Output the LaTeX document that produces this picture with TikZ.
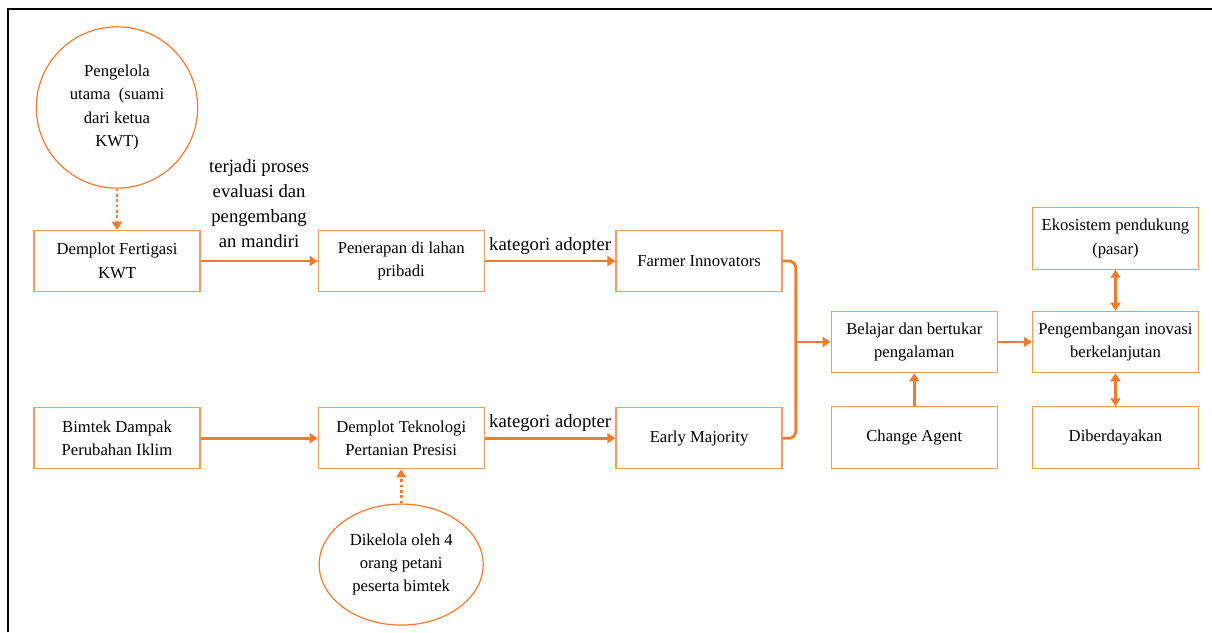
\documentclass[tikz,border=0pt]{standalone}
\usepackage{fontspec}
\setmainfont{Liberation Serif}
\newfontfamily\fonttimes{Liberation Serif}
\usetikzlibrary{positioning,shapes.geometric,arrows.meta}

\definecolor{oranye}{HTML}{F07A2E}
\definecolor{oranyemuda}{HTML}{F39A5C}

\tikzset{
  proses/.style={draw=oranyemuda, line width=0.9pt, minimum width=124.5pt, minimum height=46pt,
    align=center, inner sep=2pt, font=\fonttimes\fontsize{12.5}{17.5}\selectfont},
  bulat/.style={circle, draw=oranye, line width=0.9pt, minimum size=121pt, inner sep=0pt,
    align=center, font=\fonttimes\fontsize{12.5}{17.5}\selectfont},
  lonjong/.style={ellipse, draw=oranye, line width=0.9pt, minimum width=123pt, minimum height=90.75pt,
    inner sep=0pt, align=center, font=\fonttimes\fontsize{12.5}{17.5}\selectfont},
  link/.style={draw=oranye, line width=2pt, -{Triangle[length=6pt,width=7.5pt]}},
  dotlink/.style={link, dash pattern=on 2pt off 2pt},
  twoway/.style={draw=oranye, line width=2pt, {Triangle[length=6pt,width=7.5pt]}-{Triangle[length=6pt,width=7.5pt]}},
  lbl/.style={align=center, inner sep=2pt, font=\fonttimes\fontsize{14}{18.75}\selectfont, text=black}
}

\begin{document}
\begin{tikzpicture}[x=0.75pt, y=-0.75pt]

  \useasboundingbox (0,0) rectangle (1212,632);
  \draw[line width=1.6pt] (8,632) -- (8,9) -- (1212,9);

  % Define nodes
  \node[proses]                           (demfert)   at (117,261) {Demplot Fertigasi\\KWT};
  \node[proses, right=87.75pt of demfert]  (penerapan) {Penerapan di lahan\\pribadi};
  \node[proses, right=98pt of penerapan]   (farmer)    {Farmer Innovators};
  \node[proses, below=86pt of demfert]     (bimtek)    {Bimtek Dampak\\Perubahan Iklim};
  \node[proses, below=86pt of penerapan]   (demtek)    {Demplot Teknologi\\Pertanian Presisi};
  \node[proses, below=86pt of farmer]      (early)     {Early Majority};
  \node[bulat, above=30.75pt of demfert]   (pengelola) {Pengelola\\utama~ (suami\\dari ketua\\KWT)};
  \node[lonjong, below=25.5pt of demtek]   (dikelola)  {Dikelola oleh 4\\orang petani\\peserta bimtek};
  \node[proses, right=36pt of farmer, yshift=-60.75pt] (belajar) {Belajar dan bertukar\\pengalaman};
  \node[proses, below=24.75pt of belajar]  (agent)     {Change Agent};
  \node[proses, right=25.5pt of belajar]   (kembang)   {Pengembangan inovasi\\berkelanjutan};
  \node[proses, above=30.75pt of kembang]  (ekosistem) {Ekosistem pendukung\\(pasar)};
  \node[proses, below=24.75pt of kembang]  (daya)      {Diberdayakan};

  \coordinate (fe) at ([xshift=9.75pt]farmer.east);
  \coordinate (gabung) at (fe |- belajar.west);

  % Connect the nodes
  \draw[dotlink] (pengelola) -- (demfert);
  \draw[link] (demfert) -- node[lbl, above=7pt] {terjadi proses\\evaluasi dan\\pengembang\\an mandiri} (penerapan);
  \draw[link] (penerapan) -- node[lbl, above=2pt] {kategori adopter} (farmer);
  \draw[link] (bimtek) -- (demtek);
  \draw[link] (demtek) -- node[lbl, above=2pt] {kategori adopter} (early);
  \draw[dotlink] (dikelola) -- (demtek);
  \draw[draw=oranye, line width=2pt, rounded corners=5pt] (farmer.east) -| (gabung) |- (early.east);
  \draw[link] (gabung) -- (belajar);
  \draw[link] (agent) -- (belajar);
  \draw[link] (belajar) -- (kembang);
  \draw[twoway] (ekosistem) -- (kembang);
  \draw[twoway] (kembang) -- (daya);

\end{tikzpicture}
\end{document}
